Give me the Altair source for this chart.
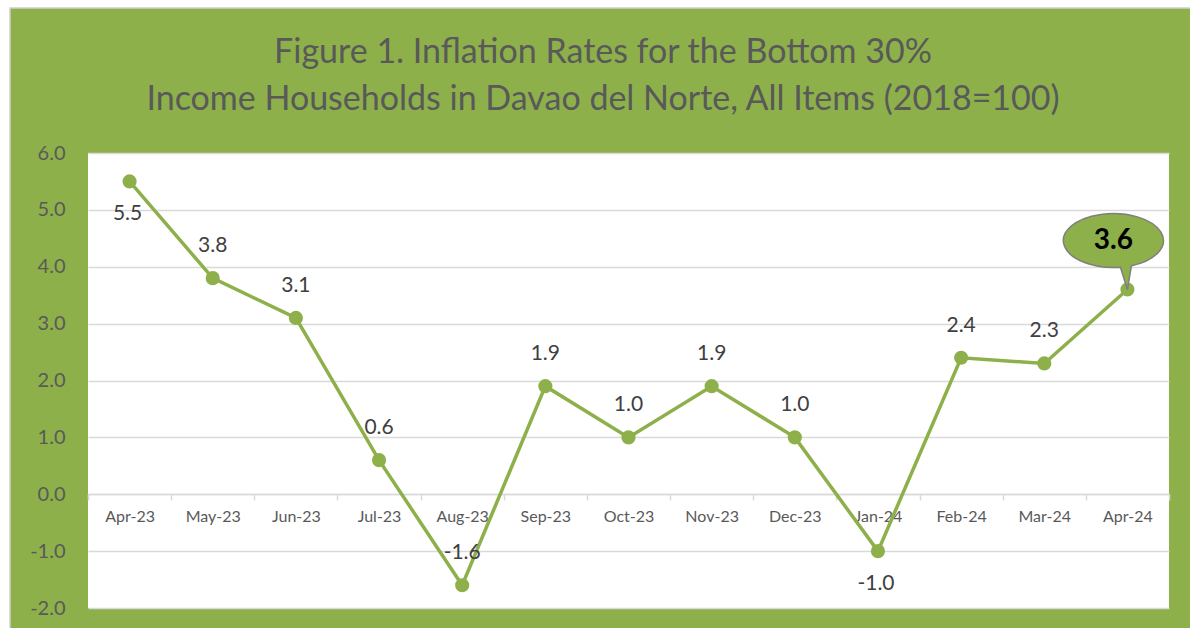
import altair as alt
import pandas as pd

# ---- data ----
months = ["Apr-23", "May-23", "Jun-23", "Jul-23", "Aug-23", "Sep-23", "Oct-23",
          "Nov-23", "Dec-23", "Jan-24", "Feb-24", "Mar-24", "Apr-24"]
values = [5.5, 3.8, 3.1, 0.6, -1.6, 1.9, 1.0, 1.9, 1.0, -1.0, 2.4, 2.3, 3.6]
y_ticks = [-2.0, -1.0, 0.0, 1.0, 2.0, 3.0, 4.0, 5.0, 6.0]
below_months = ["Apr-23", "Jan-24"]      # labels drawn under the point
callout_month = "Apr-24"                 # label drawn in a speech bubble
title_lines = ["Figure 1. Inflation Rates for the Bottom 30%",
               "Income Households in Davao del Norte, All Items (2018=100)"]

df = pd.DataFrame({"month": months, "value": values})

W, H = 1081, 455
GREEN = "#8db04b"
LINE = "#8db04b"
GRID = "#d9d9d9"
TXT = "#595959"
FONT = "Lato"
LBL_EXPR = "(datum.value < 0 ? '-' : '') + format(abs(datum.value), '.1f')"

x_enc = alt.X("month:N", sort=months,
              scale=alt.Scale(type="band", paddingInner=0, paddingOuter=0),
              axis=alt.Axis(title=None, orient="bottom", offset=-114,
                            domainColor=GRID, domainWidth=1.5,
                            tickColor=GRID, tickWidth=1.5, tickSize=6,
                            tickBand="extent", labelPadding=8,
                            labelFontSize=16, labelColor=TXT, labelFont=FONT,
                            labelAngle=0, grid=False))
y_enc = alt.Y("value:Q",
              scale=alt.Scale(domain=[-2, 6], nice=False, zero=False),
              axis=alt.Axis(title=None, values=y_ticks, labelExpr=LBL_EXPR,
                            grid=True, gridColor=GRID, gridWidth=1.5,
                            domain=False, ticks=False, labelPadding=23,
                            labelFontSize=20, labelColor=TXT, labelFont=FONT))

base = alt.Chart(df).encode(x=x_enc, y=y_enc).transform_calculate(
    lbl="(datum.value < 0 ? '-' : '') + format(abs(datum.value), '.1f')")

line = base.mark_line(color=LINE, strokeWidth=3.5)
pts = base.mark_circle(size=200, color=LINE, opacity=1)

above = base.transform_filter(
    {"not": {"field": "month", "oneOf": below_months + [callout_month]}}
).mark_text(dy=-32, fontSize=21, color="#404040", font=FONT).encode(
    text="lbl:N")
below = base.transform_filter(
    {"field": "month", "oneOf": below_months}
).mark_text(dy=33, dx=-2, fontSize=21, color="#404040", font=FONT).encode(
    text="lbl:N")

bubble_path = ("M -0.14 -0.445 L 0 0 L 0.08 -0.476 "
               "A 1.0 0.54 0 1 0 -0.14 -0.445 Z")
bubble = base.transform_filter(
    {"field": "month", "equal": callout_month}
).mark_point(shape=bubble_path, size=10000, filled=True, fill=GREEN,
             fillOpacity=1, stroke="#7f7f7f", strokeWidth=1.5, opacity=1)
bubble_txt = base.transform_filter(
    {"field": "month", "equal": callout_month}
).mark_text(dx=-14, dy=-49, fontSize=28, fontWeight="bold", color="black",
            font=FONT).encode(text="lbl:N")

# frame decoration: white margin strips and light border around green card
one = pd.DataFrame({"k": [0]})
left_strip = alt.Chart(one).mark_rect(color="white").encode(
    x=alt.value(-88), x2=alt.value(-78), y=alt.value(-153), y2=alt.value(480))
top_strip = alt.Chart(one).mark_rect(color="white").encode(
    x=alt.value(-88), x2=alt.value(1110), y=alt.value(-153), y2=alt.value(-145))
border = alt.Chart(one).mark_rect(fill=None, fillOpacity=0, stroke="#d0d0d0",
                                  strokeWidth=1.5).encode(
    x=alt.value(-78), x2=alt.value(1110), y=alt.value(-145), y2=alt.value(480))

# chart title, drawn as text in the green header
title = alt.Chart(one).mark_text(
    text=title_lines, fontSize=34, font=FONT, color=TXT, align="center",
    baseline="alphabetic", lineHeight=47
).encode(x=alt.value(515), y=alt.value(-90))

chart = alt.layer(
    left_strip, top_strip, border, title, line, pts, above, below,
    bubble, bubble_txt
).properties(
    width=W, height=H,
    padding={"left": 88, "top": 153, "right": 21, "bottom": 20},
    autosize=alt.AutoSizeParams(type="none"),
    background=GREEN,
).configure_view(fill="white", stroke=None)

chart.save("out.html", embed_options={"renderer": "svg", "actions": False})
